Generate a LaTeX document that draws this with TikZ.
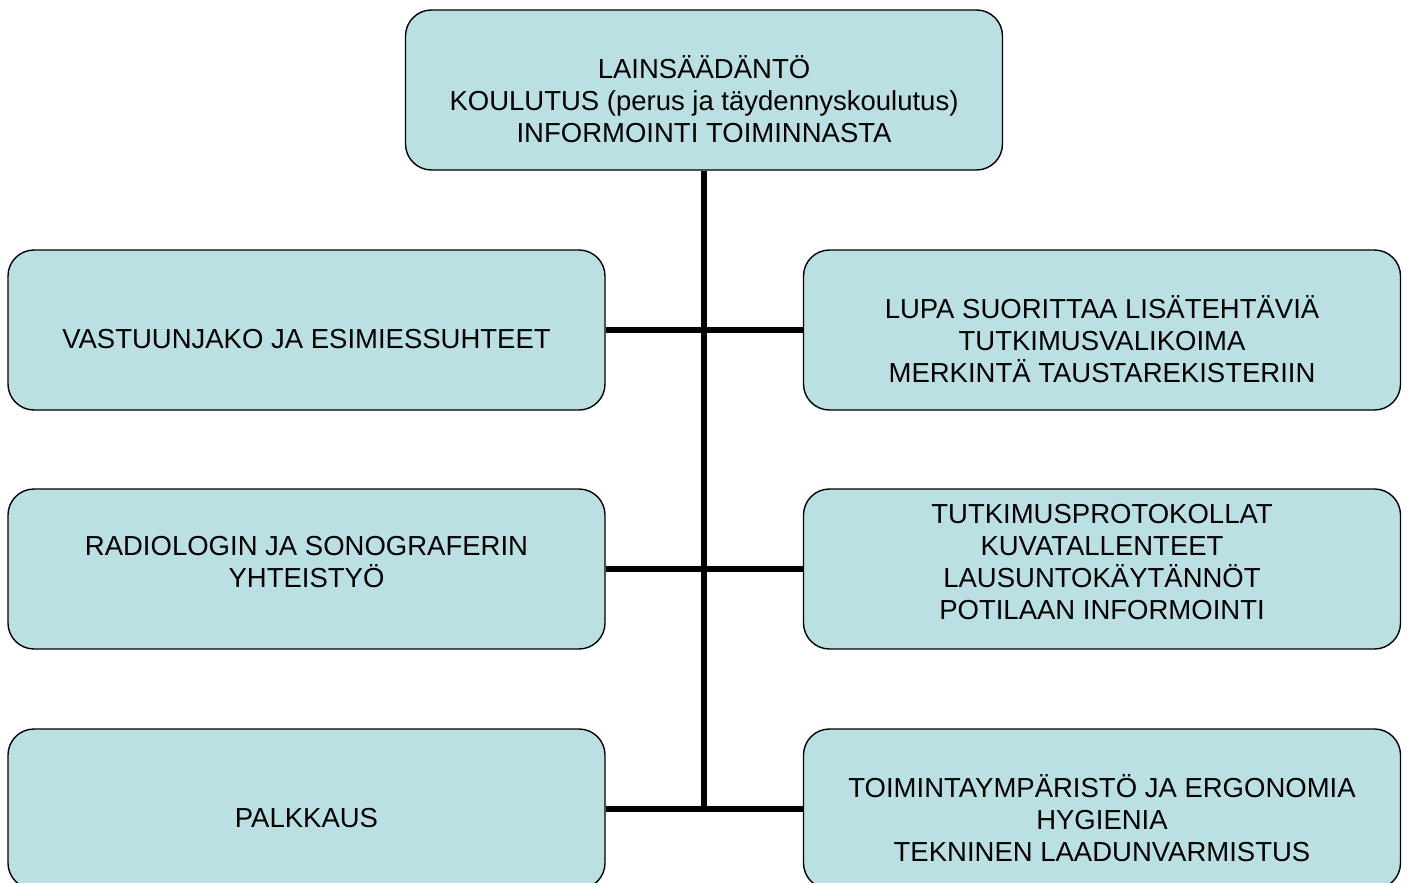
\documentclass[tikz,border=0pt]{standalone}
\usepackage{fontspec}
\setmainfont{Liberation Sans}
\usetikzlibrary{positioning}

\tikzset{
  osa/.style={draw=black, line width=1.4pt, fill=clr1, rounded corners=26pt,
    minimum width=597pt, minimum height=160pt, inner sep=0pt},
  teksti/.style={align=center, inner sep=0pt, font=\fontsize{27.5}{32}\selectfont},
  runko/.style={line width=6pt}
}

\begin{document}
\begin{tikzpicture}[x=1pt, y=-1pt]
      \definecolor{clr1}{RGB}{187,224,227}
      \clip (0, 0) rectangle (1406, 883);
      \fill[white] (0, 0) rectangle (1406, 883);

      \node[osa, label={[teksti, yshift=-9pt]center:{LAINSÄÄDÄNTÖ\\KOULUTUS (perus ja täydennyskoulutus)\\INFORMOINTI TOIMINNASTA}}] (yla) at (704, 90) {};

      \node[osa, label={[teksti, yshift=-9pt]center:{VASTUUNJAKO JA ESIMIESSUHTEET}}] (v1) at (306.5, 330) {};
      \node[osa, label={[teksti, yshift=7pt]center:{RADIOLOGIN JA SONOGRAFERIN\\YHTEISTYÖ}}] (v2) at (306.5, 569) {};
      \node[osa, label={[teksti, yshift=-9pt]center:{PALKKAUS}}] (v3) at (306.5, 809) {};

      \node[osa, label={[teksti, yshift=-9pt]center:{LUPA SUORITTAA LISÄTEHTÄVIÄ\\TUTKIMUSVALIKOIMA\\MERKINTÄ TAUSTAREKISTERIIN}}] (o1) at (1102, 330) {};
      \node[osa, label={[teksti, yshift=7pt]center:{TUTKIMUSPROTOKOLLAT\\KUVATALLENTEET\\LAUSUNTOKÄYTÄNNÖT\\POTILAAN INFORMOINTI}}] (o2) at (1102, 569) {};
      \node[osa, label={[teksti, yshift=-9pt]center:{TOIMINTAYMPÄRISTÖ JA ERGONOMIA\\HYGIENIA\\TEKNINEN LAADUNVARMISTUS}}] (o3) at (1102, 809) {};

      \coordinate (ala) at (yla.south |- v3.east);
      \draw[runko] (yla.south) -- ([yshift=3pt]ala);
      \draw[runko] (v1.east) -- (o1.west);
      \draw[runko] (v2.east) -- (o2.west);
      \draw[runko] (v3.east) -- (o3.west);
\end{tikzpicture}
\end{document}
